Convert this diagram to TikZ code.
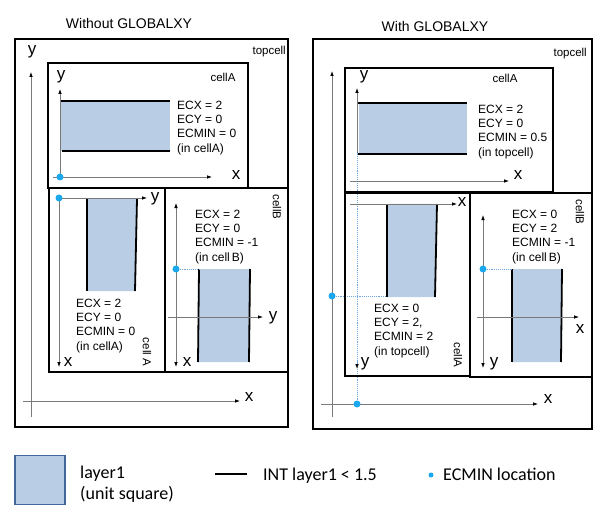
\documentclass[tikz,border=0pt]{standalone}
\usepackage{fontspec}
\setmainfont{Liberation Sans}
\newfontfamily\legfont{Carlito}
\usetikzlibrary{arrows.meta}
\definecolor{fillblue}{HTML}{B9CDE5}
\definecolor{dotblue}{HTML}{1CA8EC}
\definecolor{axgray}{HTML}{7A7A7A}
\definecolor{legborder}{HTML}{41669A}
\definecolor{guideblue}{HTML}{6FA8DC}
\begin{document}
\begin{tikzpicture}[x=1pt,y=-1pt,
  cellbox/.style={draw=black,line width=1.4pt},
  axis/.style={draw=axgray,line width=0.8pt},
  axtip/.style={-{Latex[length=5pt,width=3.6pt,color=black]}},
  axtips/.style={{Latex[length=5pt,width=3.6pt,color=black]}-{Latex[length=5pt,width=3.6pt,color=black]}},
  axlbl/.style={font=\fontsize{17}{17}\selectfont,inner sep=0pt,anchor=base},
  info/.style={font=\fontsize{12}{14.2}\selectfont,align=left,anchor=north west,inner sep=0pt},
  cname/.style={font=\fontsize{11.5}{12}\selectfont,inner sep=0pt},
  title/.style={font=\fontsize{14}{14}\selectfont,inner sep=0pt,anchor=base},
  layer/.style={fill=fillblue,draw=none},
  intline/.style={line width=1.8pt,black},
  ecdot/.style={circle,fill=dotblue,inner sep=0pt,minimum size=7pt},
  guide/.style={guideblue,densely dotted,line width=0.9pt},
  legtext/.style={font=\legfont\fontsize{18}{18}\selectfont,inner sep=0pt,anchor=base west},
]
\useasboundingbox (0,0) rectangle (610,513);

%%%%%%%%%%%%%%%% LEFT PANEL: Without GLOBALXY
\node[title] (tL) at (129,29) {Without GLOBALXY};
\draw[cellbox] (15,39) rectangle (288,427);
\node[cname,anchor=base east] (topL) at (286,55) {topcell};
% big axes
\coordinate (LYb) at (31,417); \coordinate (LYt) at (31,72);
\coordinate (LXl) at (23,401); \coordinate (LXr) at (240,401);
\draw[axis,axtip] (LYb) -- (LYt);
\draw[axis,axtip] (LXl) -- (LXr);
\node[axlbl] (LYl) at (32,55) {y};
\node[axlbl] (LXlab) at (249,401) {x};

% cellA (upper)
\draw[cellbox] (48,63) rectangle (248,188);
\node[cname,anchor=base] (cAL) at (223,82) {cellA};
\fill[layer] (61,101) rectangle (170,151);
\draw[intline] (60,101) -- (170,101);
\draw[intline] (62,151) -- (170,151);
\coordinate (aLo) at (60,177); \coordinate (aLy) at (60,89);
\coordinate (aLxl) at (53,177); \coordinate (aLxr) at (212,177);
\draw[axis,axtip] (aLo) -- (aLy);
\draw[axis,axtip] (aLxl) -- (aLxr);
\node[axlbl] (aLyl) at (61,80) {y};
\node[axlbl] (aLxlab) at (236,179) {x};
\node[ecdot] (dA1) at (aLo) {};
\node[info] (iA1) at (177,101) {ECX = 2\\ECY = 0\\ECMIN = 0\\(in cellA)};

% cellA (lower, rotated)
\draw[cellbox] (49,188) rectangle (165,372);
\fill[layer] (87,199) -- (137,199) -- (135,291) -- (87,291) -- cycle;
\draw[intline] (87,199) -- (87,291);
\draw[intline] (137,199) -- (135,291);
\coordinate (bLo) at (59,198); \coordinate (bLx) at (59,367); \coordinate (bLy) at (147,198);
\draw[axis,axtip] (bLo) -- (bLx);
\draw[axis,axtip] (bLo) -- (bLy);
\node[ecdot] (dB1) at (bLo) {};
\node[axlbl] (bLylab) at (155,201) {y};
\node[axlbl] (bLxlab) at (68,366) {x};
\node[info] (iB1) at (76,299) {ECX = 2\\ECY = 0\\ECMIN = 0\\(in cellA)};
\node[cname,rotate=-90] (cAL2) at (147,352) {cell A};

% cellB
\draw[cellbox] (165,188) rectangle (288,372);
\node[cname,rotate=-90] (cBL) at (277,207) {cellB};
\fill[layer] (199,269) -- (250,269) -- (249,362) -- (198,362) -- cycle;
\draw[intline] (199,269) -- (198,362);
\draw[intline] (250,269) -- (249,362);
\coordinate (cLt) at (176,203); \coordinate (cLb) at (176,367);
\coordinate (cLl) at (168,317); \coordinate (cLr) at (263,317);
\draw[axis,axtips] (cLb) -- (cLt);
\draw[axis,axtip] (cLl) -- (cLr);
\node[ecdot] (dC1) at (176,269) {};
\coordinate (gC1) at (199,269);
\draw[guide] (dC1) -- (gC1);
\node[axlbl] (cLylab) at (273,320) {y};
\node[axlbl] (cLxlab) at (187,366) {x};
\node[info] (iC1) at (195,210) {ECX = 2\\ECY = 0\\ECMIN = -1\\(in cell\,B)};

%%%%%%%%%%%%%%%% RIGHT PANEL: With GLOBALXY
\node[title] (tR) at (435,32) {With GLOBALXY};
\draw[cellbox] (313,39) rectangle (592,429);
\node[cname,anchor=base east] (topR) at (587,57) {topcell};
% big axes
\coordinate (RYb) at (332,417); \coordinate (RYt) at (332,71);
\coordinate (RXl) at (321,404); \coordinate (RXr) at (538,404);
\draw[axis,axtip] (RYb) -- (RYt);
\draw[axis,axtip] (RXl) -- (RXr);
\node[axlbl] (RXlab) at (548,403) {x};

% global guide lines
\node[ecdot] (dG1) at (357,404) {};
\node[ecdot] (dG2) at (332,296) {};
\coordinate (gTop) at (357,153);
\coordinate (gArr) at (357,369);
\coordinate (gR2) at (387,296);
\draw[guide] (dG1) -- (gTop);
\draw[guide] (dG2) -- (gR2);

% cellA (upper)
\draw[cellbox] (345,68) rectangle (553,192);
\node[cname,anchor=base] (cAR) at (505,83) {cellA};
\fill[layer] (359,103) rectangle (467,154);
\draw[intline] (358,103) -- (467,103);
\draw[intline] (358,154) -- (467,154);
\coordinate (aRy) at (357,88);
\coordinate (aRxl) at (350,181); \coordinate (aRxr) at (509,181);
\draw[axis,axtip] (gTop) -- (aRy);
\draw[axis,axtip] (aRxl) -- (aRxr);
\node[axlbl] (aRylab) at (364,80) {y};
\node[axlbl] (aRxlab) at (518,180) {x};
\node[info] (iA2) at (478,105) {ECX = 2\\ECY = 0\\ECMIN = 0.5\\(in topcell)};

% cellA (lower, rotated)
\draw[cellbox] (345,193) rectangle (470,376);
\fill[layer] (387,204) -- (437,204) -- (435,297) -- (387,297) -- cycle;
\draw[intline] (387,204) -- (387,297);
\draw[intline] (437,204) -- (435,297);
\coordinate (bRxl) at (350,204); \coordinate (bRxr) at (457,204);
\draw[axis,axtip] (bRxl) -- (bRxr);
\coordinate (gArr0) at (357,362);
\draw[guide,axtip] (gArr0) -- (gArr);
\node[axlbl] (bRxlab) at (462,207) {x};
\node[axlbl] (bRylab) at (365,366) {y};
\node[info] (iB2) at (374,304) {ECX = 0\\ECY = 2,\\ECMIN = 2\\(in topcell)};
\node[cname,rotate=-90] (cAR2) at (458,355) {cellA};

% cellB
\draw[cellbox] (470,193) rectangle (592,377);
\node[cname,rotate=-90] (cBR) at (580,212) {cellB};
\fill[layer] (512,269) -- (562,269) -- (561,362) -- (512,362) -- cycle;
\draw[intline] (512,269) -- (512,362);
\draw[intline] (562,269) -- (561,362);
\coordinate (cRt) at (483,215); \coordinate (cRb) at (483,368);
\coordinate (cRl) at (477,317); \coordinate (cRr) at (579,317);
\draw[axis,axtips] (cRb) -- (cRt);
\draw[axis,axtip] (cRl) -- (cRr);
\node[ecdot] (dC2) at (483,269) {};
\coordinate (gC2) at (512,269);
\draw[guide] (dC2) -- (gC2);
\node[axlbl] (cRxlab) at (580,333) {x};
\node[axlbl] (cRylab) at (494,366) {y};
\node[info] (iC2) at (512,210) {ECX = 0\\ECY = 2\\ECMIN = -1\\(in cell\,B)};

%%%%%%%%%%%%%%%% LEGEND
\node[draw=legborder,fill=fillblue,line width=1.5pt,minimum width=50pt,minimum height=49pt,inner sep=0pt] (legsq) at (40,480) {};
\node[legtext] (leg1) at (80,478) {layer1};
\node[legtext] (leg2) at (80,499) {(unit square)};
\coordinate (ll1) at (215,474); \coordinate (ll2) at (247,474);
\draw[intline] (ll1) -- (ll2);
\node[legtext] (leg3) at (263,480) {INT layer1 < 1.5};
\node[ecdot,minimum size=5pt] (legdot) at (431,475) {};
\node[legtext] (leg4) at (443,480) {ECMIN location};
\end{tikzpicture}
\end{document}
